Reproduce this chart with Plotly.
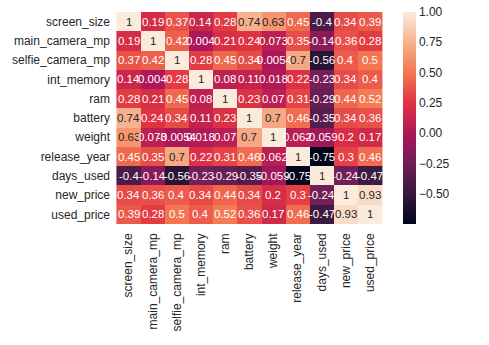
import plotly.graph_objects as go

labels = ["screen_size", "main_camera_mp", "selfie_camera_mp", "int_memory", "ram",
          "battery", "weight", "release_year", "days_used", "new_price", "used_price"]

screen_size      = [1, 0.19, 0.37, 0.14, 0.28, 0.74, 0.63, 0.45, -0.4, 0.34, 0.39]
main_camera_mp   = [0.19, 1, 0.42, 0.004, 0.21, 0.24, 0.073, 0.35, -0.14, 0.36, 0.28]
selfie_camera_mp = [0.37, 0.42, 1, 0.28, 0.45, 0.34, -0.0054, 0.7, -0.56, 0.4, 0.5]
int_memory       = [0.14, 0.004, 0.28, 1, 0.08, 0.11, 0.018, 0.22, -0.23, 0.34, 0.4]
ram              = [0.28, 0.21, 0.45, 0.08, 1, 0.23, 0.07, 0.31, -0.29, 0.44, 0.52]
battery          = [0.74, 0.24, 0.34, 0.11, 0.23, 1, 0.7, 0.46, -0.35, 0.34, 0.36]
weight           = [0.63, 0.073, -0.0054, 0.018, 0.07, 0.7, 1, 0.062, -0.059, 0.2, 0.17]
release_year     = [0.45, 0.35, 0.7, 0.22, 0.31, 0.46, 0.062, 1, -0.75, 0.3, 0.46]
days_used        = [-0.4, -0.14, -0.56, -0.23, -0.29, -0.35, -0.059, -0.75, 1, -0.24, -0.47]
new_price        = [0.34, 0.36, 0.4, 0.34, 0.44, 0.34, 0.2, 0.3, -0.24, 1, 0.93]
used_price       = [0.39, 0.28, 0.5, 0.4, 0.52, 0.36, 0.17, 0.46, -0.47, 0.93, 1]

corr = [screen_size, main_camera_mp, selfie_camera_mp, int_memory, ram, battery,
        weight, release_year, days_used, new_price, used_price]

colorbar_ticks = [1.0, 0.75, 0.5, 0.25, 0.0, -0.25, -0.5]

ZMIN, ZMAX = -0.75, 1.0

# "rocket"-style sequential palette
rocket_stops = [
    (0.0, (3, 5, 26)),
    (1 / 7, (53, 25, 62)),
    (2 / 7, (112, 31, 87)),
    (3 / 7, (173, 23, 89)),
    (4 / 7, (225, 51, 66)),
    (5 / 7, (243, 118, 81)),
    (6 / 7, (246, 180, 143)),
    (1.0, (250, 235, 221)),
]
colorscale = [[p, "rgb(%d,%d,%d)" % c] for p, c in rocket_stops]


def color_at(v):
    t = (v - ZMIN) / (ZMAX - ZMIN)
    t = min(max(t, 0.0), 1.0)
    for (p0, c0), (p1, c1) in zip(rocket_stops[:-1], rocket_stops[1:]):
        if t <= p1:
            f = (t - p0) / (p1 - p0) if p1 > p0 else 0
            return [c0[i] + f * (c1[i] - c0[i]) for i in range(3)]
    return list(rocket_stops[-1][1])


def luminance(rgb):
    out = []
    for c in rgb:
        c = c / 255.0
        out.append(c / 12.92 if c <= 0.03928 else ((c + 0.055) / 1.055) ** 2.4)
    return 0.2126 * out[0] + 0.7152 * out[1] + 0.0722 * out[2]


FONT = "Liberation Sans, Arial, sans-serif"
TEXT_DARK = "#262626"

fig = go.Figure(go.Heatmap(
    z=corr, x=labels, y=labels,
    colorscale=colorscale, zmin=ZMIN, zmax=ZMAX,
    xgap=0, ygap=0,
    colorbar=dict(
        thickness=13, len=1.0, lenmode="fraction", y=0.5, yanchor="middle", ypad=0,
        x=1.066, xanchor="left", xpad=0, outlinewidth=0,
        tickvals=colorbar_ticks, tickformat=".2f", ticks="",
        tickfont=dict(family=FONT, size=12, color=TEXT_DARK),
    ),
    hoverinfo="skip",
))

annotations = []
for i, row_name in enumerate(labels):
    for j, col_name in enumerate(labels):
        v = corr[i][j]
        txt_color = TEXT_DARK if luminance(color_at(v)) > 0.408 else "white"
        annotations.append(dict(
            x=col_name, y=row_name, text=format(v, ".2g"), showarrow=False,
            font=dict(family=FONT, size=11.5, color=txt_color),
        ))

fig.update_layout(
    width=489, height=345,
    margin=dict(l=112, r=104, t=12, b=121),
    paper_bgcolor="white", plot_bgcolor="white",
    annotations=annotations,
    font=dict(family=FONT, size=12, color=TEXT_DARK),
)
fig.update_xaxes(
    tickangle=-90, ticks="", ticklabelstandoff=6, showgrid=False, zeroline=False,
    tickfont=dict(family=FONT, size=12, color=TEXT_DARK),
)
fig.update_yaxes(
    autorange="reversed", ticks="", ticklabelstandoff=4, showgrid=False, zeroline=False,
    tickfont=dict(family=FONT, size=12, color=TEXT_DARK),
)

fig.write_html("out.html")
